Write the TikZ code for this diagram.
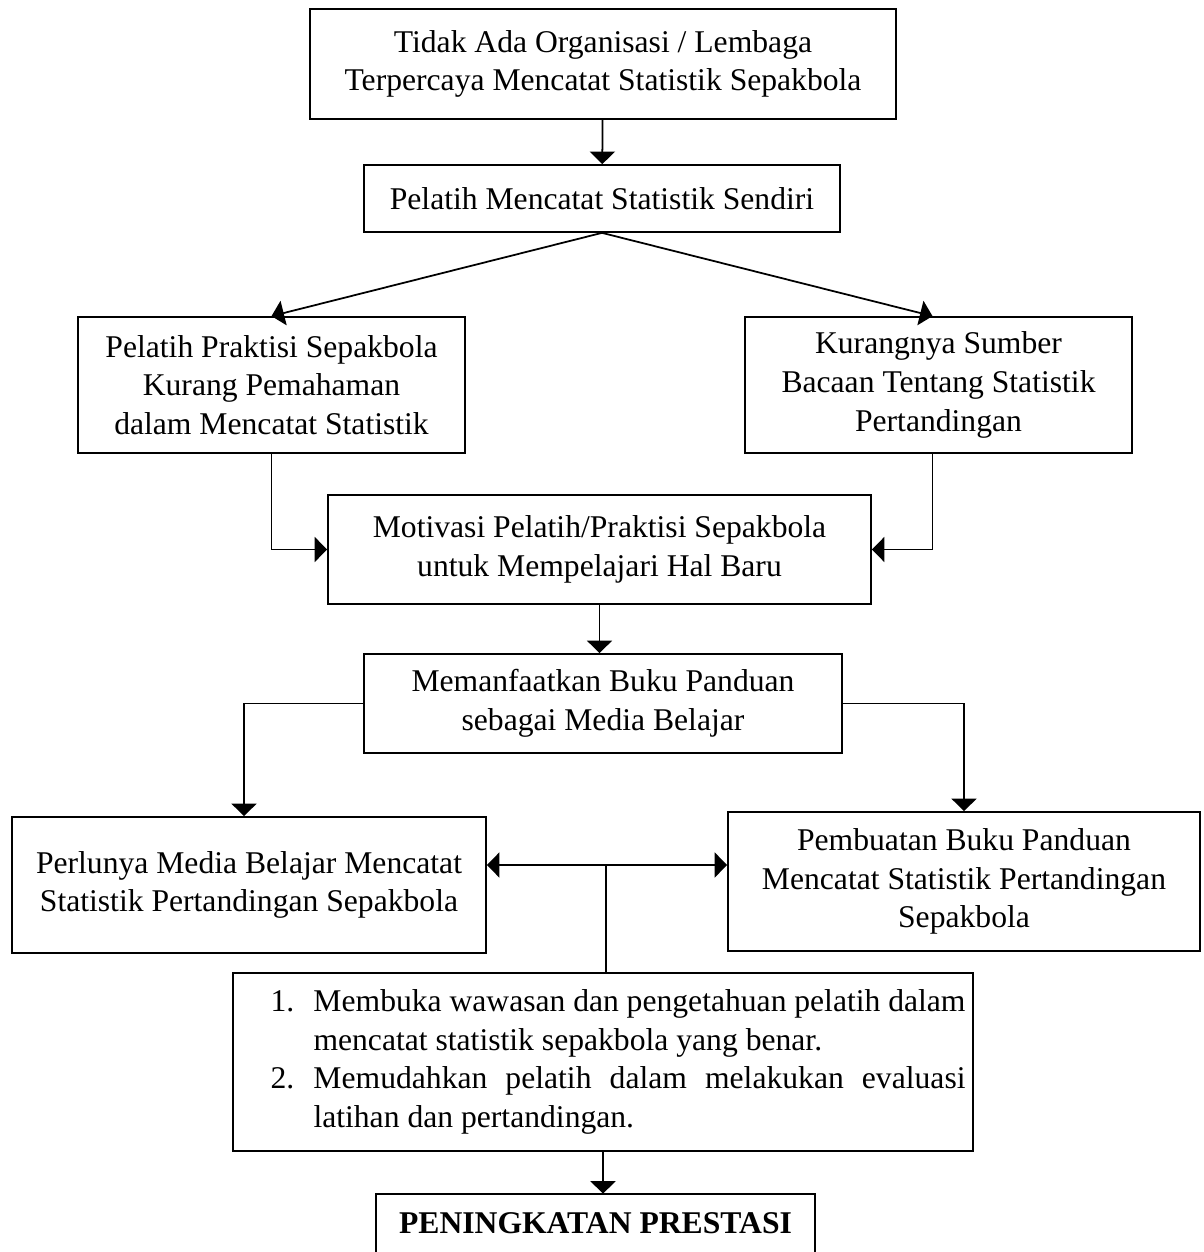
\documentclass[tikz,border=0pt]{standalone}
\usepackage{fontspec}
\setmainfont{Liberation Serif}
\usepackage{tikz}
\usetikzlibrary{arrows.meta}
\tikzstyle{kotak} = [rectangle,draw=black,line width=1pt,align=center,inner sep=0pt]
\tikzstyle{kotakbuka} = [rectangle,align=center,inner sep=0pt]
\tikzstyle{garis} = [line width=1pt]
\tikzstyle{panah} = [line width=1pt,-{Triangle[length=0.25cm,width=0.5cm]}]
\tikzstyle{panahdua} = [line width=1pt,{Triangle[length=0.25cm,width=0.5cm]}-{Triangle[length=0.25cm,width=0.5cm]}]

\begin{document}
\begin{tikzpicture}
\tikzstyle{every node}=[font=\fontsize{18}{22}\selectfont]

% 1px = 0.02cm
\useasboundingbox (0,0) rectangle (24.06,-25.04);

\node (tidakada) [kotak,xshift=12.06cm,yshift=-1.28cm,minimum width=11.72cm,minimum height=2.20cm] {Tidak Ada Organisasi / Lembaga\\Terpercaya Mencatat Statistik Sepakbola};
\node (sendiri) [kotak,xshift=12.04cm,yshift=-3.97cm,minimum width=9.52cm,minimum height=1.34cm] {Pelatih Mencatat Statistik Sendiri};

\node (kurangpaham) [kotak,xshift=5.43cm,yshift=-7.70cm,minimum width=7.74cm,minimum height=2.72cm] {Pelatih Praktisi Sepakbola\\Kurang Pemahaman\\dalam Mencatat Statistik};
\node (sumber) [kotak,xshift=18.77cm,yshift=-7.70cm,minimum width=7.74cm,minimum height=2.72cm] {Kurangnya Sumber\\Bacaan Tentang Statistik\\Pertandingan};

\node (motivasi) [kotak,xshift=11.99cm,yshift=-10.99cm,minimum width=10.86cm,minimum height=2.18cm] {Motivasi Pelatih/Praktisi Sepakbola\\untuk Mempelajari Hal Baru};
\node (manfaatbuku) [kotak,xshift=12.06cm,yshift=-14.07cm,minimum width=9.56cm,minimum height=1.98cm] {Memanfaatkan Buku Panduan\\sebagai Media Belajar};

\node (perlunya) [kotak,xshift=4.98cm,yshift=-17.70cm,minimum width=9.48cm,minimum height=2.72cm] {Perlunya Media Belajar Mencatat\\Statistik Pertandingan Sepakbola};
\node (pembuatan) [kotak,xshift=19.28cm,yshift=-17.63cm,minimum width=9.44cm,minimum height=2.78cm] {Pembuatan Buku Panduan\\Mencatat Statistik Pertandingan\\Sepakbola};

\node (hasil) [kotak,xshift=12.06cm,yshift=-21.24cm,minimum width=14.8cm,minimum height=3.56cm,inner xsep=0.15cm,text width=14.5cm,align=justify] {\leftskip=0.6cm
\hangindent=0.86cm\hangafter=1\noindent\makebox[0.86cm][l]{1.}Membuka wawasan dan pengetahuan pelatih dalam\linebreak mencatat statistik sepakbola yang benar.\par
\hangindent=0.86cm\hangafter=1\noindent\makebox[0.86cm][l]{2.}Memudahkan pelatih dalam melakukan evaluasi\linebreak latihan dan pertandingan.\par};

% kotak terakhir terpotong di bawah
\node (prestasi) [kotakbuka,xshift=11.91cm,yshift=-24.46cm,minimum width=8.78cm,minimum height=1.16cm] {\bfseries PENINGKATAN PRESTASI};

\coordinate (tengah) at (12.12,-17.30);

\draw[panah] (tidakada) -- (sendiri);
\draw[panah] (sendiri.south) -- (kurangpaham.north);
\draw[panah] (sendiri.south) -- ([xshift=-0.12cm]sumber.north);
\draw[panah] (kurangpaham.south) |- (motivasi.west);
\draw[panah] ([xshift=-0.12cm]sumber.south) |- (motivasi.east);
\draw[panah] (motivasi.south) -- (motivasi.south |- manfaatbuku.north);
\draw[panah] (manfaatbuku.west) -| ([xshift=-0.1cm]perlunya.north);
\draw[panah] (manfaatbuku.east) -| (pembuatan.north);
\draw[panahdua] (perlunya.east |- tengah) -- (pembuatan.west |- tengah);
\draw[line width=1pt] (hasil.north -| tengah) -- (tengah);
\draw[panah] (hasil.south) -- (hasil.south |- prestasi.north);
\draw[garis] ([yshift=-1cm]prestasi.south west) -- (prestasi.north west) -- (prestasi.north east) -- ([yshift=-1cm]prestasi.south east);

\end{tikzpicture}
\end{document}
